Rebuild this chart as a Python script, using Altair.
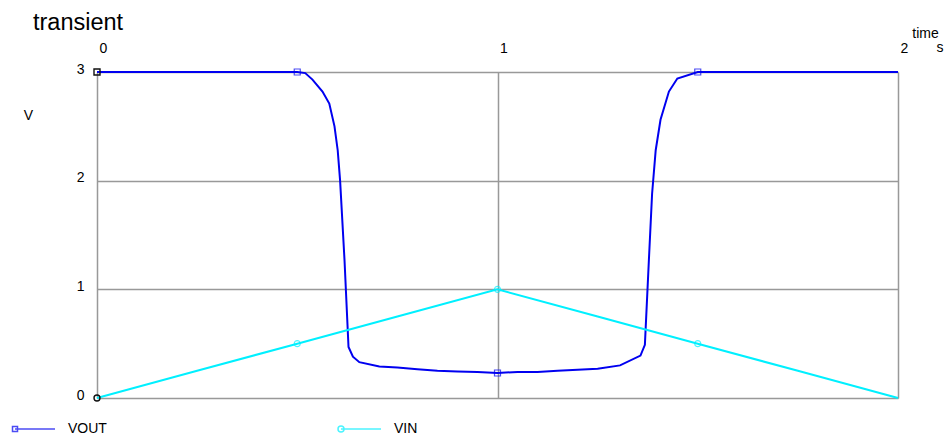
import altair as alt
import pandas as pd

# ---- data ----
t_out = [0, 0.1, 0.2, 0.3, 0.4, 0.5, 0.52, 0.538, 0.563, 0.58, 0.593, 0.601, 0.607,
         0.618, 0.628, 0.639, 0.655, 0.705, 0.75, 0.8, 0.85, 0.9, 0.95, 1.0, 1.05,
         1.1, 1.15, 1.2, 1.25, 1.306, 1.357, 1.368, 1.378, 1.386, 1.395, 1.407,
         1.428, 1.449, 1.5, 1.6, 1.7, 1.8, 1.9, 2.0]
v_out = [3, 3, 3, 3, 3, 3, 2.99, 2.93, 2.82, 2.71, 2.5, 2.28, 2.0,
         1.27, 0.47, 0.38, 0.33, 0.29, 0.28, 0.265, 0.25, 0.245, 0.24, 0.23, 0.24,
         0.24, 0.25, 0.26, 0.27, 0.30, 0.39, 0.49, 1.27, 1.88, 2.28, 2.56,
         2.82, 2.94, 3, 3, 3, 3, 3, 3]
t_in = [0, 0.25, 0.5, 0.75, 1.0, 1.25, 1.5, 1.75, 2.0]
v_in = [0, 0.25, 0.5, 0.75, 1.0, 0.75, 0.5, 0.25, 0]
marker_t = [0, 0.5, 1.0, 1.5]
vout_markers = [3, 3, 0.23, 3]
vin_markers = [0, 0.5, 1.0, 0.5]
series = ["VOUT", "VIN"]
colors = ["#0000f0", "#00f0ff"]
x_tick_count = 2          # gives ticks 0, 1, 2
y_ticks = [0, 1, 2, 3]

legend_paths = [
    "M-1,0H1M-1.125,-0.125H-0.875V0.125H-1.125Z",
    "M-1,0H1M-0.85,0A0.15,0.15,0,1,1,-1.15,0A0.15,0.15,0,1,1,-0.85,0Z",
]

lines = pd.concat([
    pd.DataFrame({"t": t_out, "v": v_out, "series": "VOUT"}),
    pd.DataFrame({"t": t_in, "v": v_in, "series": "VIN"}),
], ignore_index=True)
markers_out = pd.DataFrame({"t": marker_t, "v": vout_markers, "series": "VOUT"})
markers_in = pd.DataFrame({"t": marker_t, "v": vin_markers, "series": "VIN"})
unit_df = pd.DataFrame({"t": [2], "v": [3], "label": ["s"]})

FONT = "Liberation Sans"

x_scale = alt.Scale(domain=[0, 2], nice=False, zero=False)
y_scale = alt.Scale(domain=[0, 3], nice=False)
color_scale = alt.Scale(domain=series, range=colors)

x_axis = alt.Axis(
    orient="top", tickCount=x_tick_count, title="time", grid=True, domain=False, ticks=False,
    tickSize=0, labelAlign="left", labelOffset=2, labelBaseline="alphabetic", labelPadding=20,
    labelFontSize=14, labelFont=FONT, labelColor="black", labelOverlap=False, labelFlush=False,
    titleFont=FONT, titleFontSize=14, titleFontWeight="normal", titleColor="black",
    titleAngle=0, titleAlign="center", titleBaseline="alphabetic", titleX=828, titleY=-35,
    gridColor="#999999", gridWidth=1.5, gridOpacity=1, format="d")
y_axis = alt.Axis(
    orient="left", values=y_ticks, tickCount=4, title="V", grid=True, domain=False, ticks=False,
    tickSize=0, labelBaseline="alphabetic", labelOffset=1, labelPadding=13,
    labelFontSize=14, labelFont=FONT, labelColor="black", labelOverlap=False, labelFlush=False,
    titleFont=FONT, titleFontSize=14, titleFontWeight="normal", titleColor="black",
    titleAngle=0, titleAlign="center", titleBaseline="middle", titleX=-69, titleY=43,
    gridColor="#999999", gridWidth=1.5, gridOpacity=1, format="d")

leg = alt.Legend(
    orient="none", legendX=-83, legendY=336, direction="horizontal", title=None,
    symbolSize=1600, symbolStrokeWidth=1.5, labelFontSize=14, labelFont=FONT,
    labelColor="black", labelOffset=12, columnPadding=228, padding=0)


def xy():
    return dict(x=alt.X("t:Q", scale=x_scale, axis=x_axis),
                y=alt.Y("v:Q", scale=y_scale, axis=y_axis))


color = alt.Color("series:N", scale=color_scale, legend=leg)

line_layer = alt.Chart(lines).mark_line(strokeWidth=2).encode(
    color=color, detail="series:N", **xy())

sq_layer = alt.Chart(markers_out).transform_filter("datum.t > 0").mark_point(
    shape="square", size=36, filled=False, strokeWidth=1.2).encode(color=color, **xy())
ci_layer = alt.Chart(markers_in).transform_filter("datum.t > 0").mark_point(
    shape="circle", size=36, filled=False, strokeWidth=1.2).encode(color=color, **xy())
sq0_layer = alt.Chart(markers_out).transform_filter("datum.t == 0").mark_point(
    shape="square", size=36, filled=False, strokeWidth=1.4, color="#111111", opacity=1).encode(**xy())
ci0_layer = alt.Chart(markers_in).transform_filter("datum.t == 0").mark_point(
    shape="circle", size=36, filled=False, strokeWidth=1.4, color="#111111", opacity=1).encode(**xy())

legend_layer = alt.Chart(lines).transform_filter("false").mark_point(
    filled=False, strokeWidth=1.5).encode(
    color=color,
    shape=alt.Shape("series:N", scale=alt.Scale(domain=series, range=legend_paths), legend=leg),
    **xy())

unit_layer = alt.Chart(unit_df).mark_text(
    font=FONT, fontSize=14, color="black", align="center", baseline="alphabetic", dx=42
).encode(x=alt.X("t:Q", scale=x_scale, axis=x_axis), y=alt.value(-20), text="label:N")

chart = alt.layer(line_layer, sq_layer, ci_layer, sq0_layer, ci0_layer, legend_layer, unit_layer).properties(
    width=801, height=326,
    autosize=alt.AutoSizeParams(type="none"),
    padding={"left": 89, "top": 64, "right": 46, "bottom": 40},
    title=alt.TitleParams("transient", anchor="start", frame="group", dx=-64, dy=12,
                          fontSize=23.5, font=FONT, fontWeight="normal", color="black"),
).configure_view(stroke=None).configure(background="white")

chart.save("out.html", embed_options={"renderer": "svg", "actions": False})
